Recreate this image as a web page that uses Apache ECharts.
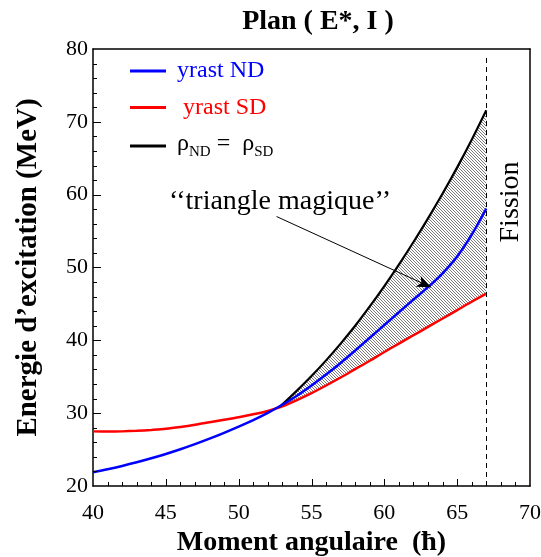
<!DOCTYPE html>
<html>
<head>
<meta charset="utf-8">
<script src="https://cdn.jsdelivr.net/npm/echarts@6/dist/echarts.min.js"></script>
<style>
html,body{margin:0;padding:0;background:#fff;}
#chart{width:541px;height:557px;}
</style>
</head>
<body>
<div id="chart"></div>
<script>
// ---- data ----
var ndI = [40,41,42,43,44,45,46,47,48,49,50,51,52,53,54,55,56,57,58,59,60,61,62,63,64,65,66,67];
var ndE = [21.9,22.3,22.75,23.25,23.8,24.4,25.05,25.75,26.5,27.3,28.15,29.05,30.05,31.15,32.4,33.8,35.3,36.9,38.6,40.35,42.1,43.85,45.6,47.3,49.2,51.5,54.5,58.1];
var sdI = [40,41,42,43,44,45,46,47,48,49,50,51,52,53,54,55,56,57,58,59,60,61,62,63,64,65,66,67];
var sdE = [27.5,27.47,27.5,27.58,27.7,27.85,28.1,28.4,28.75,29.1,29.45,29.85,30.3,30.95,31.8,32.75,33.8,34.9,36.05,37.2,38.4,39.55,40.7,41.85,43.0,44.15,45.3,46.4];
var rhoI = [52.75,53,54,55,56,57,58,59,60,61,62,63,64,65,66,67];
var rhoE = [30.8,31.2,33.1,35.1,37.25,39.55,42.0,44.65,47.45,50.4,53.5,56.75,60.15,63.75,67.55,71.6];
var fissionI = 67;
var fissionTop = 79;
var arrowFrom = [52.6, 57.0];
var arrowTo = [63.2, 47.3];
var xTicks = {min:40, max:70, interval:5, minorStep:1};
var yTicks = {min:20, max:80, interval:10, minorStep:2};

var FONT = "'Liberation Serif','Times New Roman',serif";

function pairs(xs, ys){ return xs.map(function(x,i){ return [x, ys[i]]; }); }

// hatch pattern "\\\"
var pc = document.createElement('canvas');
pc.width = 3; pc.height = 3;
var pctx = pc.getContext('2d');
pctx.fillStyle = '#fff'; pctx.fillRect(0,0,3,3);
pctx.fillStyle = '#7a7a7a';
pctx.fillRect(0,0,1,1); pctx.fillRect(1,1,1,1); pctx.fillRect(2,2,1,1);
var hatch = {image: pc, repeat: 'repeat'};

var chart = echarts.init(document.getElementById('chart'), null, {renderer:'canvas'});

function mkX(pos, main){
  return {
    type: 'value', position: pos, min: xTicks.min, max: xTicks.max, interval: xTicks.interval,
    name: main ? 'Moment angulaire  (ħ)' : '', nameLocation: 'middle', nameGap: 40,
    nameTextStyle: {fontFamily: FONT, fontWeight: 'bold', fontSize: 28, color: '#000'},
    axisLine: {show: true, onZero: false, lineStyle: {color: '#000', width: 1.5}},
    axisTick: {show: false},
    minorTick: {show: false},
    axisLabel: {show: main, fontFamily: FONT, fontSize: 22, color: '#000', margin: 16},
    splitLine: {show: false}, minorSplitLine: {show: false}
  };
}
function mkY(pos, main){
  return {
    type: 'value', position: pos, min: yTicks.min, max: yTicks.max, interval: yTicks.interval,
    name: main ? 'Energie d’excitation (MeV)' : '', nameLocation: 'middle', nameGap: 50,
    nameTextStyle: {fontFamily: FONT, fontWeight: 'bold', fontSize: 29, color: '#000'},
    axisLine: {show: true, onZero: false, lineStyle: {color: '#000', width: 1.5}},
    axisTick: {show: false},
    minorTick: {show: false},
    axisLabel: {show: main, fontFamily: FONT, fontSize: 22, color: '#000', margin: 5},
    splitLine: {show: false}, minorSplitLine: {show: false}
  };
}

// inside tick marks drawn through the axis scales
function renderTicks(params, api){
  var children = [];
  var v, p, len;
  for (v = xTicks.min + xTicks.minorStep; v < xTicks.max; v += xTicks.minorStep) {
    p = api.coord([v, yTicks.min]);
    len = (Math.round(v) % xTicks.interval === 0) ? 7 : 4;
    var px = Math.round(p[0]) + 0.5;
    children.push({type: 'line', shape: {x1: px, y1: p[1], x2: px, y2: p[1] - len},
      style: {stroke: '#000', lineWidth: 1}});
  }
  for (v = yTicks.min + yTicks.minorStep; v < yTicks.max; v += yTicks.minorStep) {
    p = api.coord([xTicks.min, v]);
    len = (Math.round(v) % yTicks.interval === 0) ? 8 : 4;
    var py = Math.round(p[1]) + 0.5;
    children.push({type: 'line', shape: {x1: p[0], y1: py, x2: p[0] + len, y2: py},
      style: {stroke: '#000', lineWidth: 1}});
  }
  return {type: 'group', children: children};
}

var option = {
  animation: false,
  backgroundColor: '#fff',
  title: {
    text: 'Plan ( E*, I )',
    left: 313, top: 3, textAlign: 'center',
    textStyle: {fontFamily: FONT, fontWeight: 'bold', fontSize: 28, color: '#000'}
  },
  grid: {left: 93, right: 11, top: 49, bottom: 71, outerBoundsMode: 'none', containLabel: false, show: false},
  legend: {
    orient: 'vertical', left: 130, top: 59, padding: 0,
    itemWidth: 36, itemHeight: 3, itemGap: 12.5, icon: 'rect',
    textStyle: {fontFamily: FONT, fontSize: 24, lineHeight: 24, padding: [0,0,0,6],
      rich: {
        a: {fontFamily: FONT, fontSize: 24, color: '#000', lineHeight: 28, verticalAlign: 'top'},
        s: {fontFamily: FONT, fontSize: 15, color: '#000', lineHeight: 28, verticalAlign: 'bottom'}
      }
    },
    data: [
      {name: 'yrast ND', textStyle: {color: '#0000ff'}},
      {name: ' yrast SD', textStyle: {color: '#ff0000'}},
      {name: 'rho', textStyle: {color: '#000'}}
    ],
    formatter: function(name){
      if (name === 'rho') return '{a|ρ}{s|ND}{a| =  ρ}{s|SD}';
      return name;
    }
  },
  xAxis: [mkX('bottom', true), mkX('top', false)],
  yAxis: [mkY('left', true), mkY('right', false)],
  series: [
    {
      type: 'custom', name: 'ticks', silent: true, z: 5, clip: false,
      data: [[xTicks.min, yTicks.min]],
      renderItem: renderTicks
    },
    {
      type: 'custom', name: 'hatch', silent: true, z: 1,
      data: [[rhoI[0], rhoE[0]]],
      renderItem: function(params, api){
        var pts = [];
        for (var i = 0; i < rhoI.length; i++) pts.push(api.coord([rhoI[i], rhoE[i]]));
        for (var j = sdI.length - 1; j >= 0; j--) {
          if (sdI[j] > rhoI[0]) pts.push(api.coord([sdI[j], sdE[j]]));
        }
        return {type: 'polygon', shape: {points: pts, smooth: 0}, style: {fill: hatch, stroke: null}};
      }
    },
    {
      type: 'line', name: ' yrast SD', data: pairs(sdI, sdE), smooth: 0.3, showSymbol: false,
      lineStyle: {color: '#ff0000', width: 2.5}, itemStyle: {color: '#ff0000'}, z: 3
    },
    {
      type: 'line', name: 'rho', data: pairs(rhoI, rhoE), smooth: 0.3, showSymbol: false,
      lineStyle: {color: '#000', width: 2.2}, itemStyle: {color: '#000'}, z: 3,
      markLine: {
        silent: true, symbol: ['none','none'], label: {show: false},
        lineStyle: {color: '#000', type: [5,4], width: 1},
        data: [[{coord: [fissionI, yTicks.min]}, {coord: [fissionI, fissionTop]}]]
      }
    },
    {
      type: 'line', name: 'yrast ND', data: pairs(ndI, ndE), smooth: 0.3, showSymbol: false,
      lineStyle: {color: '#0000ff', width: 2.5}, itemStyle: {color: '#0000ff'}, z: 4,
      markLine: {
        silent: true, symbol: ['none','arrow'], symbolSize: [9, 14], label: {show: false},
        lineStyle: {color: '#000', type: 'solid', width: 1},
        data: [[{coord: arrowFrom}, {coord: arrowTo}]]
      }
    }
  ],
  graphic: [
    {type: 'text', x: 280, y: 202, z: 10,
     style: {text: '‘‘triangle magique’’', font: "28px 'Liberation Serif', serif", fill: '#000', textAlign: 'center', textVerticalAlign: 'middle'}},
    {type: 'text', x: 511, y: 202, rotation: Math.PI/2, z: 10,
     style: {text: 'Fission', font: "28px 'Liberation Serif', serif", fill: '#000', textAlign: 'center', textVerticalAlign: 'middle'}}
  ]
};
chart.setOption(option);
</script>
</body>
</html>
